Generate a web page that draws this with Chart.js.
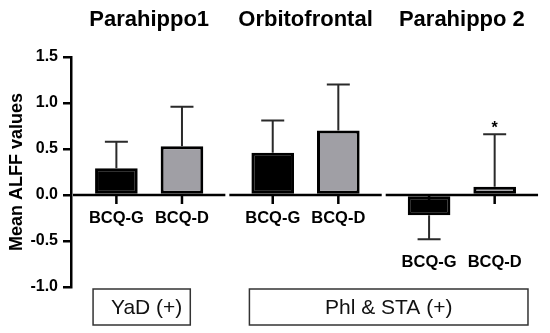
<!DOCTYPE html>
<html>
<head>
<meta charset="utf-8">
<script src="https://cdn.jsdelivr.net/npm/chart.js@4"></script>
<style>
  html, body { margin: 0; padding: 0; background: #fff; }
  #wrap { width: 550px; height: 333px; position: relative; }
</style>
</head>
<body>
<div id="wrap"><canvas id="c" width="550" height="333"></canvas></div>
<script>
// ---- data ----
const categories = ['Parahippo1', 'Orbitofrontal', 'Parahippo 2'];
const seriesNames = ['BCQ-G', 'BCQ-D'];
const meanG = [0.29, 0.46, -0.22];
const meanD = [0.53, 0.70, 0.09];
const errG = [0.29, 0.35, 0.26];
const errD = [0.43, 0.50, 0.57];
const sigG = ['', '', ''];
const sigD = ['', '', '*'];
const yTickLabels = ['-1.0', '-0.5', '0.0', '0.5', '1.0', '1.5'];
const boxLabels = ['YaD (+)', 'Phl & STA (+)'];
const boxGroups = [[0, 0], [1, 2]];

const means = [meanG, meanD];
const errs = [errG, errD];
const sigs = [sigG, sigD];

const FONT = "'Liberation Sans', Arial, Helvetica, sans-serif";
Chart.defaults.font.family = FONT;
Chart.defaults.color = '#000';

const boxPad = [[-2, -13], [-2, 12]];

const decor = {
  id: 'decor',
  afterDatasetsDraw(chart) {
    const { ctx, chartArea, scales: { x, y } } = chart;
    const y0 = y.getPixelForValue(0);
    const half = x.width / categories.length / 2 - 2;
    ctx.save();
    // group baselines
    ctx.strokeStyle = '#000';
    ctx.lineWidth = 2.5;
    categories.forEach((c, i) => {
      const cx = x.getPixelForValue(i);
      ctx.beginPath();
      ctx.moveTo(cx - half, y0);
      ctx.lineTo(cx + half, y0);
      ctx.stroke();
    });
    // tick marks below baseline
    chart.data.datasets.forEach((ds, di) => {
      const meta = chart.getDatasetMeta(di);
      meta.data.forEach((bar) => {
        ctx.beginPath();
        ctx.moveTo(bar.x, y0);
        ctx.lineTo(bar.x, y0 + 9);
        ctx.stroke();
      });
    });
    // error bars
    ctx.strokeStyle = '#2a2a2a';
    ctx.lineWidth = 2;
    chart.data.datasets.forEach((ds, di) => {
      const meta = chart.getDatasetMeta(di);
      meta.data.forEach((bar, i) => {
        const v = means[di][i];
        const e = errs[di][i];
        const end = v >= 0 ? v + e : v - e;
        const p1 = y.getPixelForValue(v);
        const p2 = y.getPixelForValue(end);
        ctx.beginPath();
        ctx.moveTo(bar.x, p1);
        ctx.lineTo(bar.x, p2);
        ctx.moveTo(bar.x - 11.5, p2);
        ctx.lineTo(bar.x + 11.5, p2);
        ctx.stroke();
        if (sigs[di][i]) {
          ctx.fillStyle = '#000';
          ctx.font = 'bold 16px ' + FONT;
          ctx.textAlign = 'center';
          ctx.textBaseline = 'alphabetic';
          ctx.fillText(sigs[di][i], bar.x, p2 - 1);
        }
      });
    });
    // BCQ labels under each group
    ctx.fillStyle = '#000';
    ctx.font = 'bold 16.5px ' + FONT;
    ctx.textAlign = 'center';
    ctx.textBaseline = 'middle';
    categories.forEach((c, i) => {
      let lowest = 0;
      means.forEach((m, di) => {
        if (m[i] < 0) lowest = Math.min(lowest, m[i] - errs[di][i]);
      });
      const ly = Math.max(y0, y.getPixelForValue(lowest)) + 23;
      chart.data.datasets.forEach((ds, di) => {
        const bar = chart.getDatasetMeta(di).data[i];
        ctx.fillText(seriesNames[di], bar.x, ly);
      });
    });
    // bottom boxes
    const metaG = chart.getDatasetMeta(0), metaD = chart.getDatasetMeta(1);
    boxLabels.forEach((lab, bi) => {
      const [g0, g1] = boxGroups[bi];
      const l = metaG.data[g0].x - metaG.data[g0].width / 2 + boxPad[bi][0];
      const r = metaD.data[g1].x + metaD.data[g1].width / 2 + boxPad[bi][1];
      const top = chartArea.bottom + 2;
      const h = 36;
      ctx.strokeStyle = '#333';
      ctx.lineWidth = 1.5;
      ctx.strokeRect(l, top, r - l, h);
      ctx.fillStyle = '#111';
      ctx.font = '21px ' + FONT;
      ctx.textAlign = 'center';
      ctx.textBaseline = 'middle';
      ctx.fillText(lab, (l + r) / 2 + (bi === 0 ? 5 : 0), top + h / 2 + 1);
    });
    ctx.restore();
  }
};

new Chart(document.getElementById('c'), {
  type: 'bar',
  data: {
    labels: categories,
    datasets: [
      { label: seriesNames[0], data: meanG, backgroundColor: '#000000', borderColor: '#000', borderWidth: 3, borderSkipped: false },
      { label: seriesNames[1], data: meanD, backgroundColor: '#a09fa5', borderColor: '#000', borderWidth: 3, borderSkipped: false }
    ]
  },
  options: {
    responsive: false,
    animation: false,
    devicePixelRatio: 1,
    layout: { padding: { left: 0, right: 7, top: 0, bottom: 46 } },
    plugins: { legend: { display: false }, tooltip: { enabled: false } },
    datasets: { bar: { categoryPercentage: 0.839, barPercentage: 0.65 } },
    scales: {
      x: {
        position: 'top',
        grid: { display: false, drawTicks: false },
        border: { display: false },
        ticks: { font: { size: 22, weight: 'bold' }, color: '#000', padding: 24, maxRotation: 0, autoSkip: false },
        afterFit: (s) => { s.height = 57; }
      },
      y: {
        min: -1, max: 1.5,
        ticks: {
          stepSize: 0.5,
          font: { size: 16, weight: 'bold' },
          color: '#000',
          padding: 5,
          callback: (v, i) => yTickLabels[i]
        },
        grid: { display: true, drawOnChartArea: false, drawTicks: true, tickLength: 8, color: '#000', lineWidth: 2.5 },
        border: { display: true, color: '#000', width: 2.5 },
        title: { display: true, text: 'Mean ALFF values', font: { size: 18, weight: 'bold' }, color: '#000', padding: { top: 6, bottom: 0 } },
        afterFit: (s) => { s.width = 71; }
      }
    }
  },
  plugins: [decor]
});
</script>
</body>
</html>
